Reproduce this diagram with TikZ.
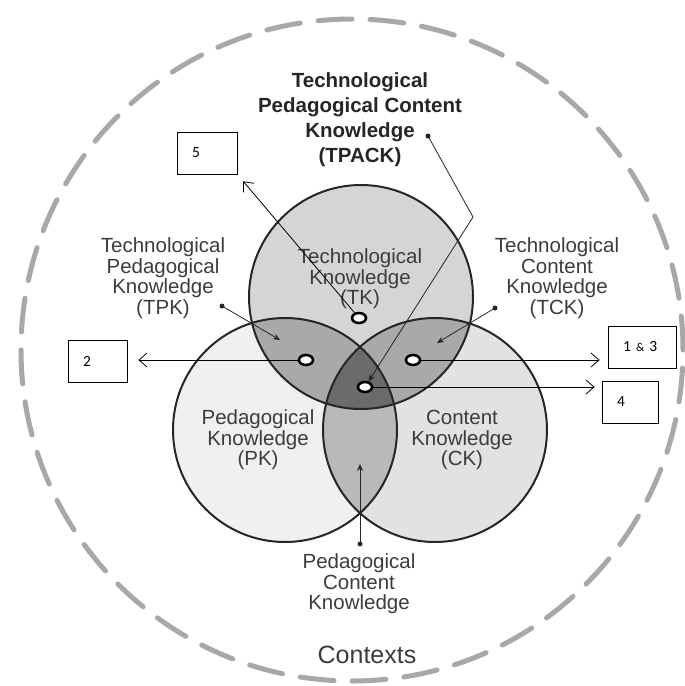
\documentclass[tikz,border=0pt]{standalone}
\usepackage{fontspec}
\setmainfont{Liberation Sans}
\newfontfamily\boxfont{Carlito}
\usetikzlibrary{positioning,
	calc,
	shapes,
	arrows.meta}

\definecolor{tkfill}{HTML}{D5D5D5}
\definecolor{pkfill}{HTML}{F0F0F0}
\definecolor{ckfill}{HTML}{E2E2E2}
\definecolor{pairfill}{HTML}{A9A9A9}
\definecolor{pckfill}{HTML}{B9B9B9}
\definecolor{corefill}{HTML}{6B6B6B}
\definecolor{outline}{HTML}{262626}
\definecolor{ctxgray}{HTML}{A8A8A8}
\definecolor{labeltext}{HTML}{3C3C3C}

\tikzset{
	context/.style={draw=ctxgray, line width=5pt, line cap=round, dash pattern=on 34pt off 18pt},
	venn/.style={draw=outline, line width=2pt},
	lbl/.style={align=center, text=labeltext, inner sep=0pt, font=\fontsize{20.5}{20.5}\selectfont},
	numbox/.style={draw, line width=0.8pt, text width=#1, align=left, inner xsep=15pt, minimum height=42pt, font=\boxfont\fontsize{15.5}{16}\selectfont},
	spot/.style={ellipse, draw, fill=white, line width=2.6pt, minimum width=14pt, minimum height=10pt, inner sep=0pt},
	pin/.style={circle, fill=outline, inner sep=0pt, minimum size=5pt},
	boxarrow/.style={-{Straight Barb[length=8pt,width=14pt]}, line width=0.8pt},
	pinarrow/.style={-{Stealth[length=7pt,width=6pt]}, line width=0.8pt, draw=outline}
}

\begin{document}
\begin{tikzpicture}[x=1pt, y=-1pt]
	\useasboundingbox (0,0) rectangle (685,686);
	% contexts ring
	\draw[context] (352,350) circle (331pt);
	% the three knowledge circles
	\coordinate (tk) at (361,297);
	\coordinate (pk) at (285,430);
	\coordinate (ck) at (435,430);
	\fill[tkfill] (tk) circle (112pt);
	\fill[pkfill] (pk) circle (112pt);
	\fill[ckfill] (ck) circle (112pt);
	\begin{scope}
		\clip (tk) circle (112pt);
		\fill[pairfill] (pk) circle (112pt);
		\fill[pairfill] (ck) circle (112pt);
	\end{scope}
	\begin{scope}
		\clip (pk) circle (112pt);
		\fill[pckfill] (ck) circle (112pt);
	\end{scope}
	\begin{scope}
		\clip (tk) circle (112pt);
		\clip (pk) circle (112pt);
		\fill[corefill] (ck) circle (112pt);
	\end{scope}
	\draw[venn] (tk) circle (112pt);
	\draw[venn] (pk) circle (112pt);
	\draw[venn] (ck) circle (112pt);

	% labels
	\node (tpacklabel) [lbl, text=outline, font=\bfseries\fontsize{20.5}{25}\selectfont] at (360,120) {Technological\\Pedagogical Content\\Knowledge\\(TPACK)};
	\node (tklabel) [lbl] at (360,279) {Technological\\Knowledge\\(TK)};
	\node (tpklabel) [lbl] at (163,278) {Technological\\Pedagogical\\Knowledge\\(TPK)};
	\node (tcklabel) [lbl] at (557,278) {Technological\\Content\\Knowledge\\(TCK)};
	\node (pklabel) [lbl] at (258,440) {Pedagogical\\Knowledge\\(PK)};
	\node (cklabel) [lbl] at (462,440) {Content\\Knowledge\\(CK)};
	\node (pcklabel) [lbl] at (359,584) {Pedagogical\\Content\\Knowledge};
	\node (contexts) [lbl, font=\fontsize{25}{28}\selectfont] at (367,655) {Contexts};

	% numbered boxes
	\node (box5) [numbox=30pt] at (207,153) {5};
	\node (box2) [numbox=29pt] at (97.5,361) {2};
	\node (box13) [numbox=38pt] at (642,347) {1 {\fontsize{12}{12}\selectfont\&} 3};
	\node (box4) [numbox=26pt] at (630,402) {4};

	% spots
	\node (tkdot) [spot] at (359,318) {};
	\node (tpkdot) [spot] at (306,360) {};
	\node (tckdot) [spot] at (413,360) {};
	\node (coredot) [spot] at (365,387) {};

	% pins of the labels
	\node (tpackpin) [pin] at (428,136) {};
	\node (tpkpin) [pin] at (222,306) {};
	\node (tckpin) [pin] at (495,308) {};
	\node (pckpin) [pin] at (360,544) {};
	\coordinate (tpackbend) at (473,217);
	\coordinate (tpktip) at (280,340);
	\coordinate (tcktip) at (437,343);
	\coordinate (pcktip) at (360,464);

	\draw[pinarrow] (tpackpin.center) -- (tpackbend) -- (coredot);
	\draw[pinarrow] (tpkpin.center) -- (tpktip);
	\draw[pinarrow] (tckpin.center) -- (tcktip);
	\draw[pinarrow] (pckpin.center) -- (pcktip);

	% arrows to the boxes
	\draw[boxarrow, shorten >=9pt] (tkdot) -- (box5.south east);
	\draw[boxarrow, shorten >=11pt] (tpkdot) -- (tpkdot -| box2.east);
	\draw[boxarrow, shorten >=8pt] (tckdot) -- (tckdot -| box13.west);
	\draw[boxarrow, shorten >=7pt] (coredot) -- (coredot -| box4.west);
\end{tikzpicture}
\end{document}
